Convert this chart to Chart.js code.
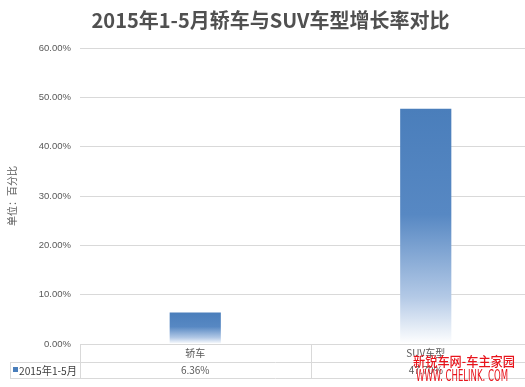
<!DOCTYPE html>
<html lang="zh">
<head>
<meta charset="UTF-8" />
<title>2015年1-5月轿车与SUV车型增长率对比</title>
<style>
  html, body { margin: 0; padding: 0; background: #fff; overflow: hidden; }
  #wrap { width: 545px; height: 387px; }
</style>
</head>
<body>
<div id="wrap"><canvas id="growthChart" width="545" height="387"></canvas></div>
<script src="https://cdn.jsdelivr.net/npm/chart.js"></script>
<script>
  // data
  const categories = ["轿车", "SUV车型"];
  const seriesName = "2015年1-5月";
  const growthRate = [6.36, 47.7];
  const yMax = 60;
  const yStep = 10;

  const gray = "#595959";
  const lineGray = "#d9d9d9";
  const blue = "#4a7ebb";

  function barGradient(c) {
    const chart = c.chart;
    if (!chart.chartArea || c.type !== "data") return blue;
    const y = chart.scales.y;
    const top = y.getPixelForValue(c.raw);
    const bottom = y.getPixelForValue(0);
    const g = chart.ctx.createLinearGradient(0, top, 0, bottom);
    g.addColorStop(0, "#4a7ebb");
    g.addColorStop(0.45, "#5788c3");
    g.addColorStop(0.8, "#b3c9e6");
    g.addColorStop(1, "#ffffff");
    return g;
  }

  // data table under the plot (Excel style) + site watermark
  const dataTable = {
    id: "dataTable",
    afterDraw(chart) {
      const ctx = chart.ctx;
      const area = chart.chartArea;
      const x = chart.scales.x;
      const row1 = area.bottom;
      const row2 = row1 + 18;
      const row3 = row2 + 16;
      const legendLeft = 10;
      const bounds = [area.left];
      for (let i = 0; i < categories.length - 1; i++) {
        bounds.push((x.getPixelForValue(i) + x.getPixelForValue(i + 1)) / 2);
      }

      ctx.save();
      ctx.strokeStyle = lineGray;
      ctx.lineWidth = 1;
      ctx.beginPath();
      ctx.moveTo(area.left, row1 + 0.5); ctx.lineTo(area.right, row1 + 0.5);
      ctx.moveTo(legendLeft, row2 + 0.5); ctx.lineTo(area.right, row2 + 0.5);
      ctx.moveTo(legendLeft, row3 + 0.5); ctx.lineTo(area.right, row3 + 0.5);
      ctx.moveTo(legendLeft + 0.5, row2); ctx.lineTo(legendLeft + 0.5, row3);
      bounds.forEach((b) => {
        ctx.moveTo(Math.round(b) + 0.5, row1); ctx.lineTo(Math.round(b) + 0.5, row3);
      });
      ctx.stroke();

      ctx.fillStyle = gray;
      ctx.font = "10px 'Noto Sans CJK SC', sans-serif";
      ctx.textAlign = "center";
      ctx.textBaseline = "middle";
      categories.forEach((name, i) => {
        const cx = x.getPixelForValue(i);
        ctx.fillText(name, cx, (row1 + row2) / 2);
        ctx.fillText(growthRate[i].toFixed(2) + "%", cx, (row2 + row3) / 2);
      });

      ctx.fillStyle = blue;
      ctx.fillRect(legendLeft + 3, row2 + 5, 5, 5);
      ctx.fillStyle = "#404040";
      ctx.textAlign = "left";
      ctx.font = "11px 'Noto Sans CJK SC', sans-serif";
      ctx.fillText(seriesName, legendLeft + 9, (row2 + row3) / 2 + 0.5, 58);

      ctx.fillStyle = "#e8141c";
      ctx.font = "500 13px 'Noto Sans CJK SC', sans-serif";
      ctx.fillText("新锐车网-车主家园", 413, 361, 102);
      ctx.font = "15px 'Liberation Sans Narrow', 'DejaVu Sans Condensed', sans-serif";
      ctx.fillText("WWW. CHELINK. COM", 416, 377, 92);
      ctx.restore();
    }
  };

  new Chart(document.getElementById("growthChart"), {
    type: "bar",
    data: {
      labels: categories,
      datasets: [{
        label: seriesName,
        data: growthRate,
        backgroundColor: barGradient,
        borderWidth: 0,
        categoryPercentage: 1,
        barPercentage: 0.222
      }]
    },
    options: {
      responsive: false,
      animation: false,
      layout: { padding: { left: 0, right: 4, top: 0, bottom: 43 } },
      plugins: {
        legend: { display: false },
        tooltip: { enabled: false },
        title: {
          display: true,
          text: "2015年1-5月轿车与SUV车型增长率对比",
          color: "#505050",
          font: { family: "'Noto Sans CJK SC', sans-serif", size: 20, weight: "bold", lineHeight: 1.2 },
          padding: { top: 8, bottom: 16 }
        }
      },
      scales: {
        x: { display: false },
        y: {
          min: 0,
          max: yMax,
          afterFit(scale) { scale.width = 80; },
          border: { display: false },
          grid: { color: lineGray, drawTicks: false },
          ticks: {
            stepSize: yStep,
            padding: 9,
            color: gray,
            font: { family: "'Liberation Sans', sans-serif", size: 9.5 },
            callback: (v) => v.toFixed(2) + "%"
          },
          title: {
            display: true,
            text: "单位：百分比",
            color: gray,
            font: { family: "'Noto Sans CJK SC', sans-serif", size: 10 },
            padding: { top: 6, bottom: 0 }
          }
        }
      }
    },
    plugins: [dataTable]
  });
</script>
</body>
</html>
